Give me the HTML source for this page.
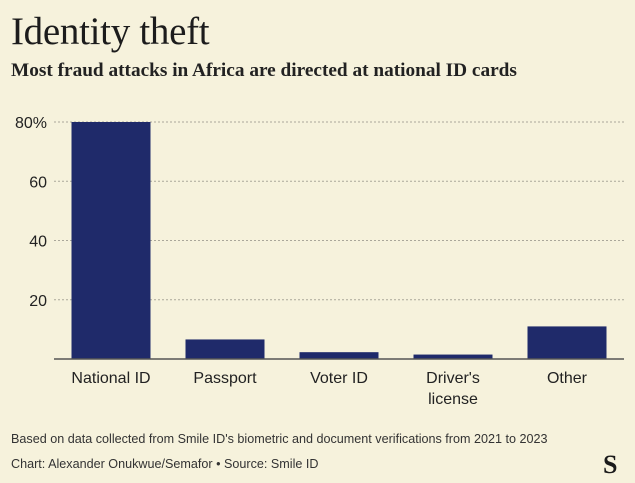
<!DOCTYPE html>
<html><head><meta charset="utf-8"><style>
html,body{margin:0;padding:0;background:#f6f2dc;}
body{width:635px;height:483px;position:relative;overflow:hidden;font-family:"Liberation Sans",sans-serif;color:#222;}
.t{position:absolute;left:11px;top:9px;font-family:"Liberation Serif",serif;font-size:39px;color:#1c1c1c;letter-spacing:-0.3px}
.s{position:absolute;left:11px;top:60px;font-family:"Liberation Serif",serif;font-size:19.3px;font-weight:bold;color:#222}
.f{position:absolute;left:11px;font-size:12.6px;color:#333}
</style></head><body>
<div class="t">Identity theft</div>
<div class="s">Most fraud attacks in Africa are directed at national ID cards</div>
<svg id="c" width="635" height="483" style="position:absolute;left:0;top:0"></svg>
<div class="f" style="top:432px">Based on data collected from Smile ID's biometric and document verifications from 2021 to 2023</div>
<div class="f" style="top:457px">Chart: Alexander Onukwue/Semafor • Source: Smile ID</div>
<div style="position:absolute;left:603px;top:450px;font-family:'Liberation Serif',serif;font-weight:bold;font-size:26px;color:#1a1a1a">S</div>
<script>
const categories=["National ID","Passport","Voter ID","Driver's|license","Other"];
const values=[80,6.6,2.3,1.5,11];
const ticks=[20,40,60,80];
const tickLabels=["20","40","60","80%"];
const svg=document.getElementById('c');const NS="http://www.w3.org/2000/svg";
const x0=54,x1=624,y0=359,y80=122;
const y=v=>y0+(y80-y0)*v/80;
const band=(x1-x0)/categories.length;
const xb=i=>x0+band*i+(band-79)/2;
function mk(t,a){const e=document.createElementNS(NS,t);for(const k in a)e.setAttribute(k,a[k]);svg.appendChild(e);return e;}
ticks.forEach((t,i)=>{
 const g=mk('line',{x1:x0,x2:x1,y1:y(t),y2:y(t),stroke:'#aaa79a','stroke-dasharray':'2,2','stroke-width':1});
 
 
 const l=mk('text',{x:47,y:y(t)+6,'text-anchor':'end','font-size':16,fill:'#222','font-family':'Liberation Sans, sans-serif'});
 l.textContent=tickLabels[i];
 
 
});
categories.forEach((c,i)=>{
 const r=mk('rect',{x:xb(i),y:y(values[i]),width:79,height:y0-y(values[i]),fill:'#1f2a6a'});
 
 
 c.split('|').forEach((p,j)=>{
  const t=mk('text',{x:xb(i)+39.5,y:383+j*21,'text-anchor':'middle','font-size':16,fill:'#222','font-family':'Liberation Sans, sans-serif'});
  t.textContent=p;
  
  
 });
});
const ax=mk('line',{x1:x0,x2:x1,y1:y0,y2:y0,stroke:'#555','stroke-width':1.5});


</script>
</body></html>
